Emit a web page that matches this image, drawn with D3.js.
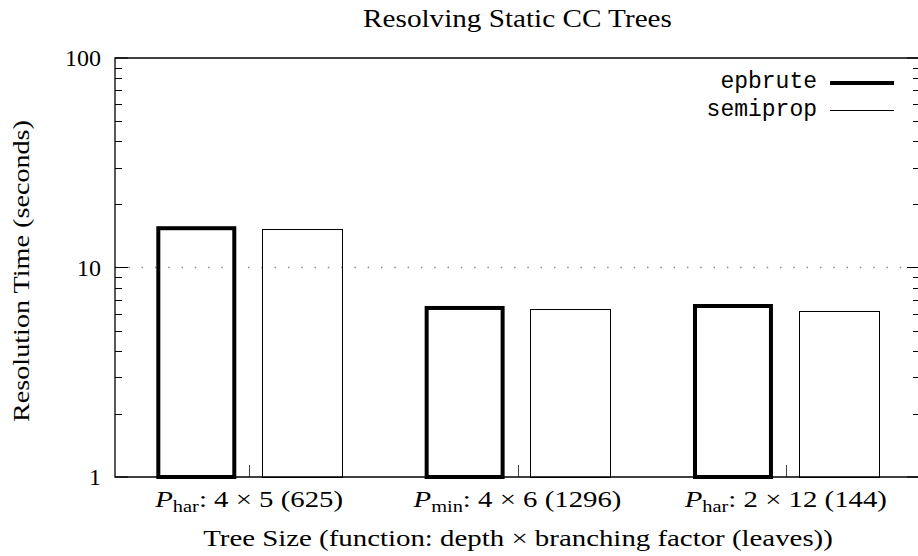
<!DOCTYPE html>
<html>
<head>
<meta charset="utf-8">
<script src="https://cdn.jsdelivr.net/npm/d3@7"></script>
<style>
  html, body { margin: 0; padding: 0; background: #fff; }
  svg { display: block; }
  .serif { font-family: "Liberation Serif", "Times New Roman", serif; }
  .mono { font-family: "Liberation Mono", "DejaVu Sans Mono", monospace; }
</style>
</head>
<body>
<svg id="chart" width="918" height="556"></svg>
<script>
// ---- data ----
const title = "Resolving Static CC Trees";
const yAxisTitle = "Resolution Time (seconds)";
const xAxisTitle = "Tree Size (function: depth × branching factor (leaves))";
const categorySubscripts = ["har", "min", "har"];
const categoryTexts = [": 4 × 5 (625)", ": 4 × 6 (1296)", ": 2 × 12 (144)"];
const seriesNames = ["epbrute", "semiprop"];
const epbruteValues = [15.4, 6.41, 6.55];
const semipropValues = [15.2, 6.31, 6.18];
const yTickValues = [1, 10, 100];
const yTickLabels = ["1", "10", "100"];

// ---- layout ----
const plotLeft = 115, plotRight = 920, plotTop = 58, plotBottom = 477;
const svg = d3.select("#chart");

const x = d3.scaleLinear().domain([-0.5, categoryTexts.length - 0.5]).range([plotLeft, plotRight]);
const y = d3.scaleLog().domain([1, 100]).range([plotBottom, plotTop]);

const boxW = 0.298;       // in category units
const offset = 0.197;     // half distance between the two bars of a cluster

// stretch text horizontally to mimic the wider Computer Modern face
function fit(el, cx, cy, targetW, rot) {
  const w = el.node().getComputedTextLength();
  const s = targetW / w;
  el.attr("x", 0).attr("y", 0)
    .attr("transform", `translate(${cx},${cy})${rot ? " rotate(-90)" : ""} scale(${s},1)`);
}
function stretch(el, cx, cy, s) {
  el.attr("x", 0).attr("y", 0).attr("transform", `translate(${cx},${cy}) scale(${s},1)`);
}

// grid line at 10
svg.append("line")
  .attr("x1", plotLeft).attr("x2", plotRight)
  .attr("y1", y(10)).attr("y2", y(10))
  .attr("stroke", "#8a8a8a").attr("stroke-width", 1.3)
  .attr("stroke-dasharray", "1.5,11.8");

// y ticks (major + minor), both sides
const minorVals = [];
for (let d = 1; d < 100; d *= 10) for (let k = 2; k <= 9; k++) minorVals.push(d * k);
const tickG = svg.append("g").attr("stroke", "#000").attr("stroke-width", 1);
minorVals.forEach(v => {
  const yy = Math.round(y(v)) + 0.5;
  tickG.append("line").attr("x1", plotLeft).attr("x2", plotLeft + 7).attr("y1", yy).attr("y2", yy);
  tickG.append("line").attr("x1", plotRight).attr("x2", plotRight - 7).attr("y1", yy).attr("y2", yy);
});
yTickValues.forEach(v => {
  tickG.append("line").attr("x1", plotLeft).attr("x2", plotLeft + 13).attr("y1", y(v)).attr("y2", y(v));
  tickG.append("line").attr("x1", plotRight).attr("x2", plotRight - 13).attr("y1", y(v)).attr("y2", y(v));
});

// x ticks
categoryTexts.forEach((t, i) => {
  svg.append("line")
    .attr("x1", Math.round(x(i)) + 0.5).attr("x2", Math.round(x(i)) + 0.5)
    .attr("y1", plotBottom).attr("y2", plotBottom - 12)
    .attr("stroke", "#444").attr("stroke-width", 1);
});

// bars
const semi = svg.append("g");
semipropValues.forEach((v, i) => {
  const x0 = x(i + offset - boxW / 2), x1 = x(i + offset + boxW / 2);
  semi.append("rect")
    .attr("x", Math.round(x0) + 0.5).attr("y", Math.round(y(v)) + 0.5)
    .attr("width", Math.round(x1 - x0)).attr("height", Math.round(y(1) - y(v)))
    .attr("fill", "none").attr("stroke", "#000").attr("stroke-width", 1);
});
const epb = svg.append("g");
epbruteValues.forEach((v, i) => {
  const x0 = x(i - offset - boxW / 2) + 2, x1 = x(i - offset + boxW / 2) - 2;
  epb.append("rect")
    .attr("x", x0).attr("y", y(v))
    .attr("width", x1 - x0).attr("height", y(1) - y(v))
    .attr("fill", "none").attr("stroke", "#000").attr("stroke-width", 4);
});

// border
svg.append("path")
  .attr("d", `M${plotRight},${plotTop}H${plotLeft}V${plotBottom}H${plotRight}V${plotTop}`)
  .attr("fill", "none").attr("stroke", "#000").attr("stroke-width", 1.3);

// y tick labels
yTickValues.forEach((v, i) => {
  svg.append("text").attr("class", "serif")
    .attr("x", 101).attr("y", y(v) + 8)
    .attr("text-anchor", "end").attr("font-size", 24)
    .text(yTickLabels[i]);
});

// x tick labels
categoryTexts.forEach((t, i) => {
  const tx = svg.append("text").attr("class", "serif")
    .attr("text-anchor", "middle").attr("font-size", 24);
  tx.append("tspan").attr("font-style", "italic").text("P");
  tx.append("tspan").attr("font-size", 17).attr("dy", 5).text(categorySubscripts[i]);
  tx.append("tspan").attr("dy", -5).text(t);
  stretch(tx, x(i), 507, 1.2);
});

// axis titles
const xt = svg.append("text").attr("class", "serif")
  .attr("text-anchor", "middle").attr("font-size", 24)
  .text(xAxisTitle);
fit(xt, 518, 546, 630, false);
const yt = svg.append("text").attr("class", "serif")
  .attr("text-anchor", "middle").attr("font-size", 24)
  .text(yAxisTitle);
fit(yt, 29, 271, 302, true);
const tt = svg.append("text").attr("class", "serif")
  .attr("text-anchor", "middle").attr("font-size", 25)
  .text(title);
fit(tt, 517.5, 27, 309, false);

// legend
const legendY = [83, 110.5];
const legendWidths = [4, 1];
seriesNames.forEach((n, i) => {
  svg.append("text").attr("class", "mono")
    .attr("x", 817).attr("y", legendY[i] + 5)
    .attr("text-anchor", "end").attr("font-size", 23)
    .text(n);
  svg.append("line")
    .attr("x1", 830).attr("x2", 894)
    .attr("y1", legendY[i]).attr("y2", legendY[i])
    .attr("stroke", "#000").attr("stroke-width", legendWidths[i]);
});
</script>
</body>
</html>
